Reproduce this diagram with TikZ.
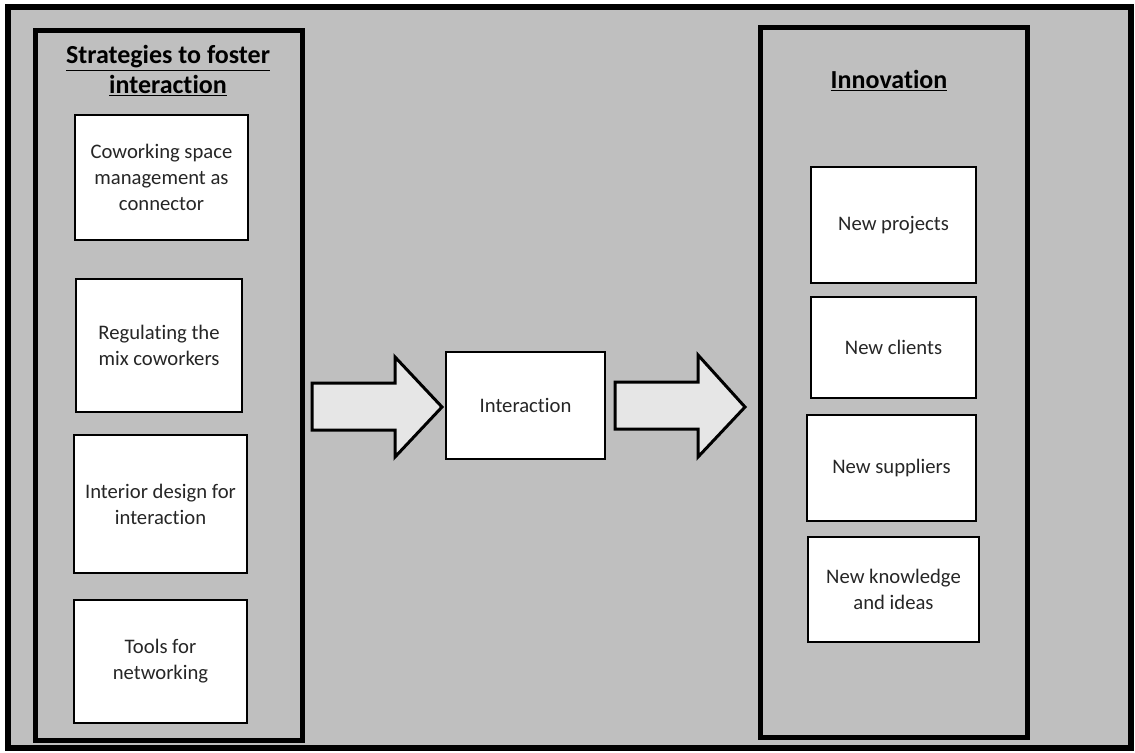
\documentclass[tikz,border=0pt]{standalone}
\usepackage{fontspec}
\setmainfont[RawFeature={-liga;-clig;-calt;-dlig}]{Carlito}
\definecolor{bggray}{HTML}{BFBFBF}
\definecolor{arrowgray}{HTML}{E6E6E6}
\definecolor{txtgray}{HTML}{262626}
\begin{document}
\begin{tikzpicture}[x=0.75pt,y=-0.75pt,
        box/.style={draw,line width=1.5pt,fill=white,align=center,text=txtgray,font=\fontsize{15.5}{19.5}\selectfont,inner sep=0pt},
        panel/.style={draw,line width=3.75pt},
        title/.style={align=center,font=\bfseries\fontsize{19.5}{22.5}\selectfont},
        blockarrow/.style={draw,line width=2.25pt,fill=arrowgray,line join=miter}]
        \useasboundingbox (0,0) rectangle (1135,753);
        \draw[line width=4.5pt,fill=bggray] (8,7) rectangle (1131,748);
        \draw[panel] (35.5,30) rectangle (302.5,740);
        \draw[panel] (760,27.5) rectangle (1027.5,737.5);
        \node[title] (strat) at (168,71) {\underline{Strategies to foster}\\\underline{interaction}};
        \node[title,anchor=base] (innov) at (889,88) {\underline{Innovation}};
        \node[box,minimum width=129.75pt,minimum height=93.75pt] (cowork) at (161.5,177.5) {Coworking space\\management as\\connector};
        \node[box,minimum width=124.5pt,minimum height=99.75pt] (mix) at (159,345.5) {Regulating the\\mix coworkers};
        \node[box,minimum width=129.75pt,minimum height=103.5pt] (design) at (160.5,504) {Interior design for\\interaction};
        \node[box,minimum width=129.75pt,minimum height=92.25pt] (tools) at (160.5,661.5) {Tools for\\networking};
        \node[box,minimum width=119.25pt,minimum height=80.25pt] (inter) at (525.5,405.5) {Interaction};
        \node[box,minimum width=123.75pt,minimum height=87pt] (projects) at (893.5,225) {New projects};
        \node[box,minimum width=123.75pt,minimum height=75.75pt] (clients) at (893.5,347.5) {New clients};
        \node[box,minimum width=126.75pt,minimum height=79.5pt] (suppliers) at (891.5,468) {New suppliers};
        \node[box,minimum width=128.25pt,minimum height=78.75pt] (knowledge) at (893.5,589.5) {New knowledge\\and ideas};
        \draw[blockarrow] (312,383) -- (395,383) -- (395,357) -- (442,407) -- (395,457) -- (395,430) -- (312,430) -- cycle;
        \draw[blockarrow] (615,382) -- (698,382) -- (698,355) -- (745,407) -- (698,457) -- (698,429) -- (615,429) -- cycle;
\end{tikzpicture}
\end{document}
